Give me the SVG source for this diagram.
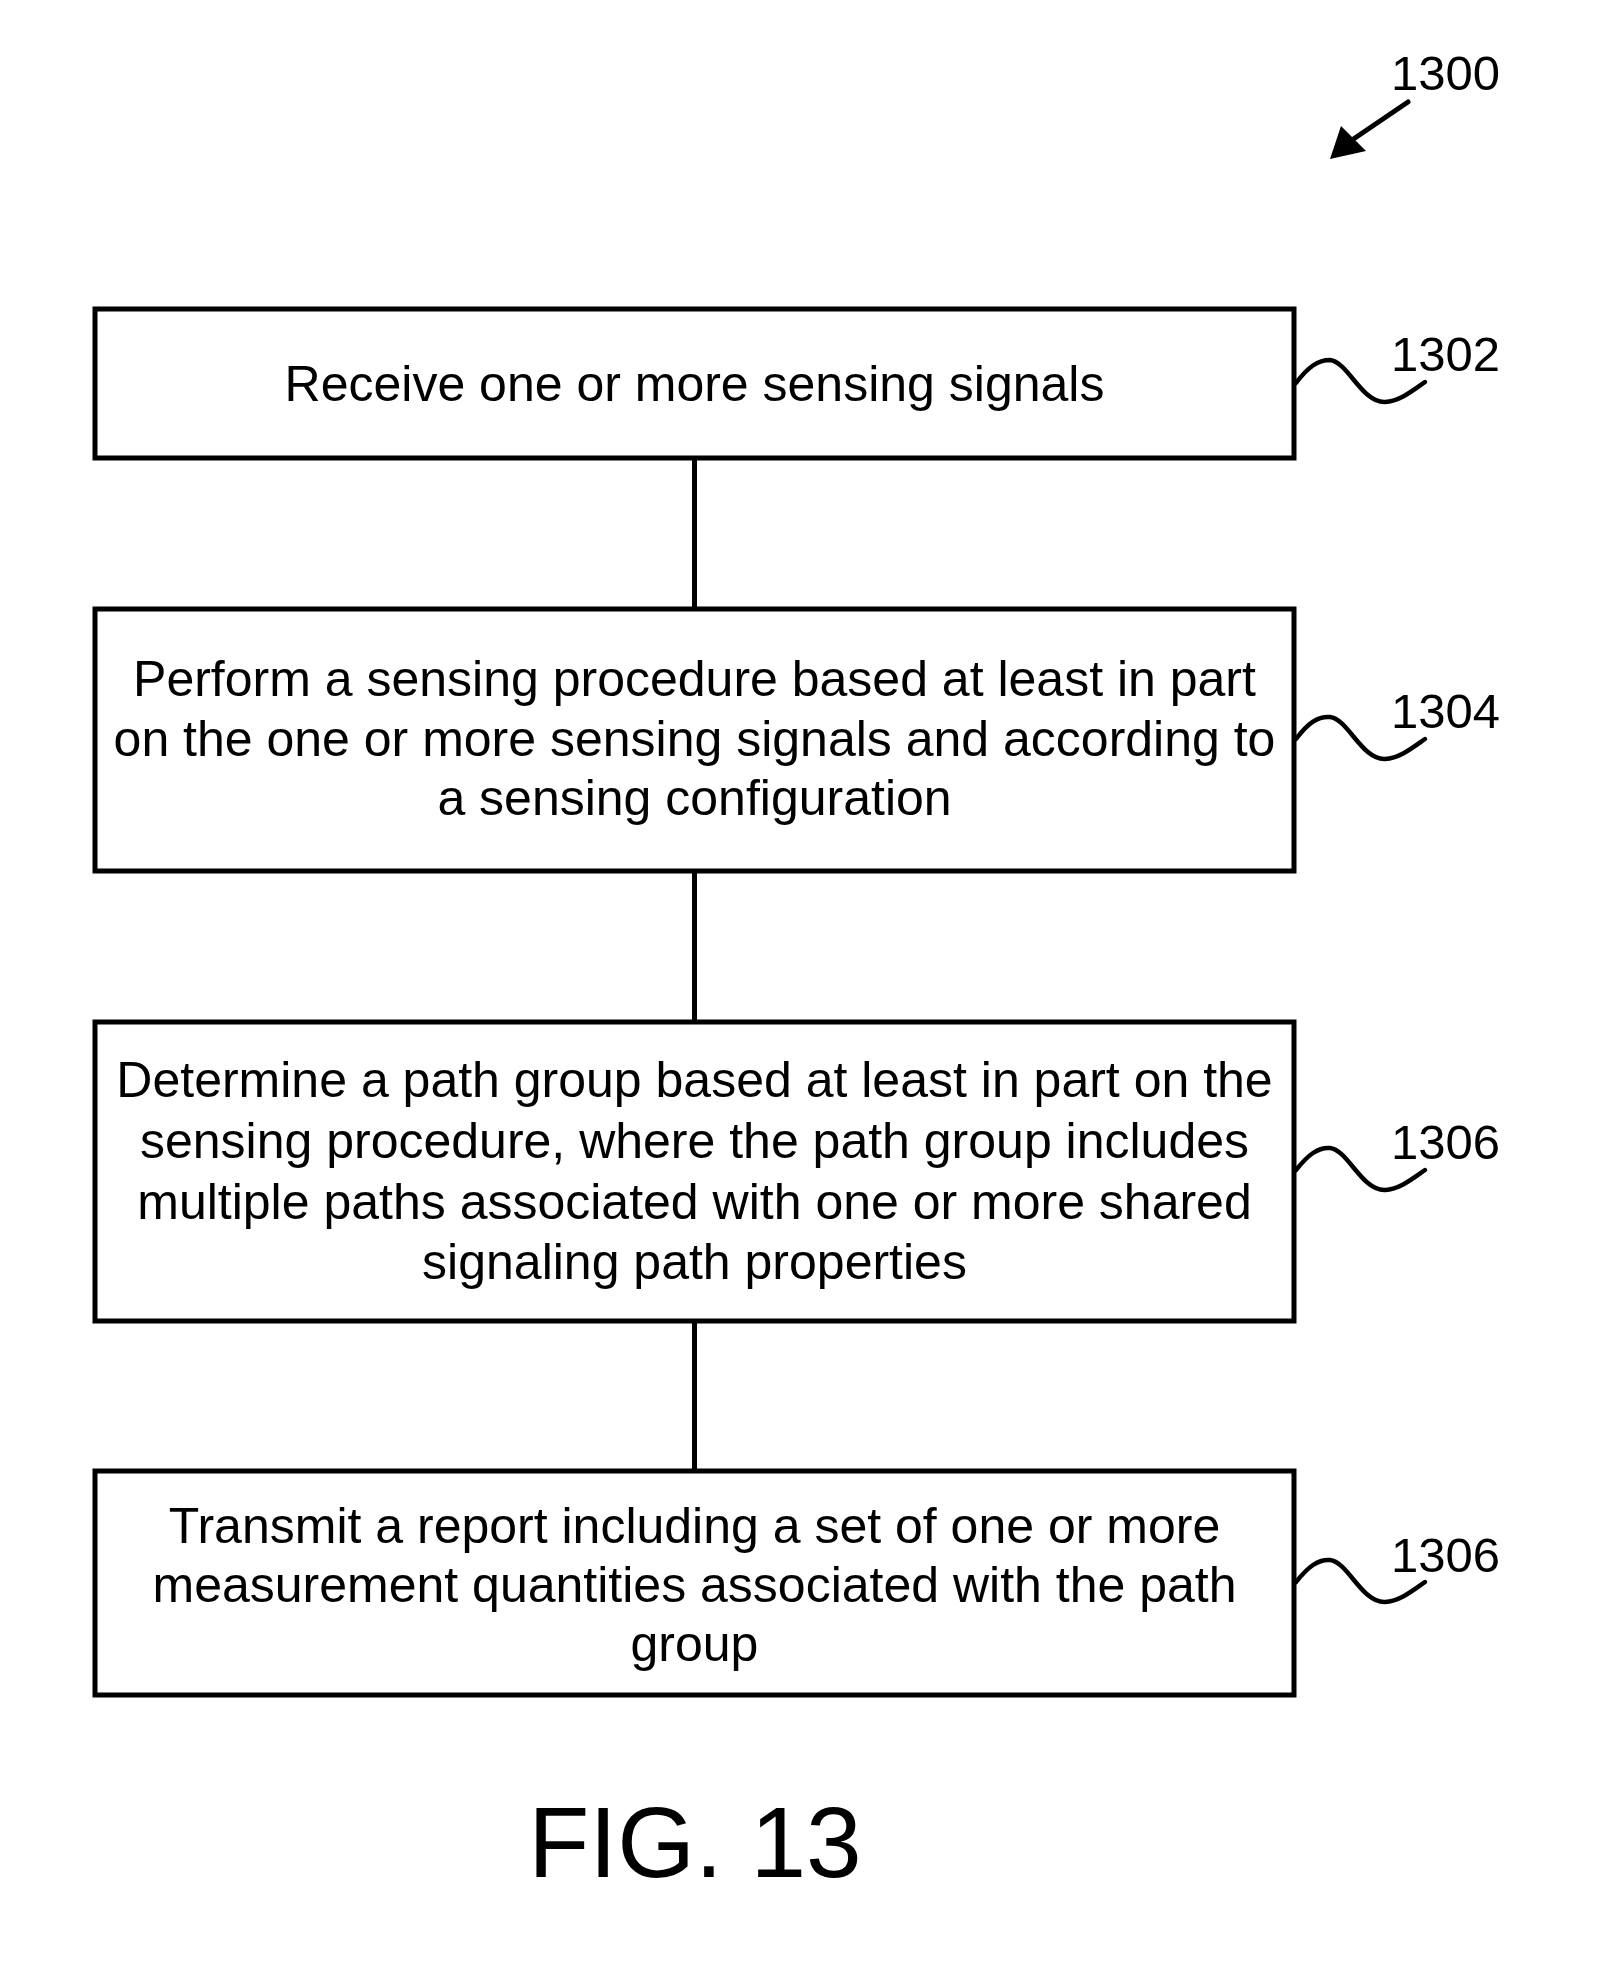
<svg xmlns="http://www.w3.org/2000/svg" width="1600" height="1963" viewBox="0 0 1600 1963">
<style>
.box{fill:#fff;stroke:#000;stroke-width:5}
.t{font-family:"Liberation Sans",Arial,sans-serif;font-size:50px;fill:#000;text-anchor:middle}
.ref{font-family:"Liberation Sans",Arial,sans-serif;font-size:49px;fill:#000}
.sq{fill:none;stroke:#000;stroke-width:4.5;stroke-linecap:round}
.conn{stroke:#000;stroke-width:5}
</style>
<rect width="1600" height="1963" fill="#fff"/>
<g id="ref1300">
<text class="ref" x="1391" y="90">1300</text>
<line x1="1408" y1="102" x2="1352" y2="140" stroke="#000" stroke-width="5" stroke-linecap="round"/>
<polygon points="1330,159 1341,126 1366,151" fill="#000"/>
</g>
<g id="connectors">
<line class="conn" x1="694.5" y1="458" x2="694.5" y2="609"/>
<line class="conn" x1="694.5" y1="871" x2="694.5" y2="1022"/>
<line class="conn" x1="694.5" y1="1321" x2="694.5" y2="1471"/>
</g>
<g id="n1302">
<rect class="box" x="95" y="309" width="1199" height="149"/>
<text class="t" x="694.5" y="401">Receive one or more sensing signals</text>
<path class="sq" d="M1296,383 C1308,367 1318,360 1330,360 C1348,362 1362,403 1385,402 C1400,401 1412,391 1425,382"/>
<text class="ref" x="1391" y="371">1302</text>
</g>
<g id="n1304">
<rect class="box" x="95" y="609" width="1199" height="262"/>
<text class="t" x="694.5" y="696">Perform a sensing procedure based at least in part</text>
<text class="t" x="694.5" y="755.5">on the one or more sensing signals and according to</text>
<text class="t" x="694.5" y="815">a sensing configuration</text>
<path class="sq" d="M1296,739 C1308,723 1318,716 1330,717 C1348,719 1362,760 1385,759 C1400,758 1412,748 1425,739"/>
<text class="ref" x="1391" y="728">1304</text>
</g>
<g id="n1306a">
<rect class="box" x="95" y="1022" width="1199" height="299"/>
<text class="t" x="694.5" y="1097">Determine a path group based at least in part on the</text>
<text class="t" x="694.5" y="1158">sensing procedure, where the path group includes</text>
<text class="t" x="694.5" y="1219">multiple paths associated with one or more shared</text>
<text class="t" x="694.5" y="1279">signaling path properties</text>
<path class="sq" d="M1296,1170 C1308,1155 1318,1147 1330,1148 C1348,1150 1362,1191 1385,1190 C1400,1189 1412,1179 1425,1170"/>
<text class="ref" x="1391" y="1159">1306</text>
</g>
<g id="n1306b">
<rect class="box" x="95" y="1471" width="1199" height="224"/>
<text class="t" x="694.5" y="1543">Transmit a report including a set of one or more</text>
<text class="t" x="694.5" y="1602">measurement quantities associated with the path</text>
<text class="t" x="694.5" y="1661">group</text>
<path class="sq" d="M1296,1582 C1308,1567 1318,1559 1330,1560 C1348,1562 1362,1603 1385,1602 C1400,1601 1412,1591 1425,1582"/>
<text class="ref" x="1391" y="1572">1306</text>
</g>
<text x="695" y="1877" font-family="'Liberation Sans',Arial,sans-serif" font-size="100" text-anchor="middle" fill="#000">FIG. 13</text>
</svg>
